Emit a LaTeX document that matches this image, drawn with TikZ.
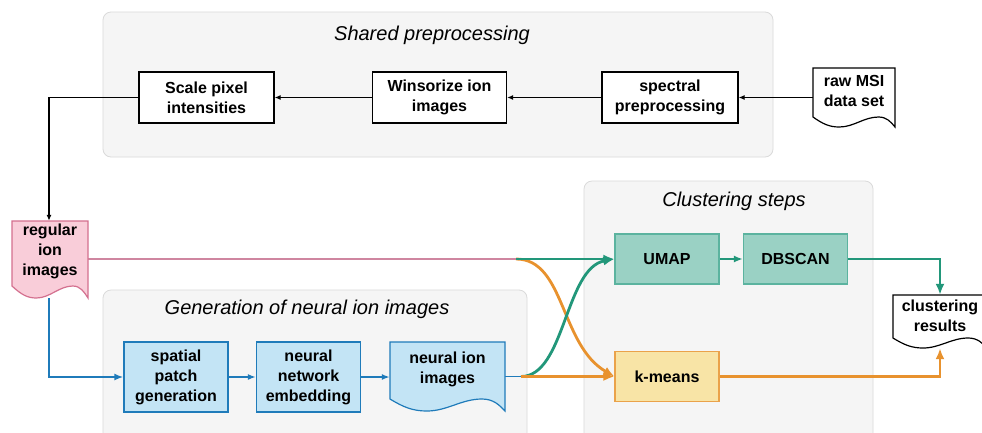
\documentclass[tikz,border=0pt]{standalone}
\usepackage{fontspec}
\setmainfont{Liberation Sans}
\usetikzlibrary{arrows.meta}
\definecolor{groupfill}{HTML}{F5F5F5}
\definecolor{groupline}{HTML}{DADADA}
\definecolor{pinkfill}{HTML}{F9CDD9}
\definecolor{pinkline}{HTML}{D4708F}
\definecolor{pinkconn}{HTML}{CF86A0}
\definecolor{bluefill}{HTML}{C3E4F5}
\definecolor{blueline}{HTML}{1F7BBA}
\definecolor{greenfill}{HTML}{9AD1C4}
\definecolor{greenborder}{HTML}{5BB39F}
\definecolor{greenline}{HTML}{22977A}
\definecolor{orangefill}{HTML}{F8E4A6}
\definecolor{orangeborder}{HTML}{EAA24A}
\definecolor{orangeline}{HTML}{E8922E}
\pgfdeclarelayer{back}
\pgfdeclarelayer{mid}
\pgfsetlayers{back,mid,main}
\newcommand{\wavedoc}[6]{% #1 style, #2 x1, #3 y1, #4 x2, #5 yb, #6 d
  \pgfmathsetmacro\wdw{#4-#2}
  \draw[#1] (#2,#3) -- (#4,#3) -- (#4,#5)
    .. controls ({#4-0.05*\wdw},{#5-0.5*#6}) and ({#2+0.9*\wdw},{#5-#6}) .. ({#2+0.8*\wdw},{#5-#6})
    .. controls ({#2+0.62*\wdw},{#5-#6}) and ({#2+0.5*\wdw},#5) .. ({#2+0.32*\wdw},#5)
    .. controls ({#2+0.2*\wdw},#5) and ({#2+0.12*\wdw},{#5-0.3*#6}) .. (#2,{#5-#6}) -- cycle;}
\begin{document}
\begin{tikzpicture}[x=1pt,y=-1pt,
  lbl/.style={font=\bfseries\fontsize{16}{20}\selectfont, align=center, inner sep=0},
  ttl/.style={font=\itshape\fontsize{20}{24}\selectfont, inner sep=0},
  group/.style={draw=groupline, fill=groupfill, rounded corners=8pt, line width=0.8pt, inner sep=0},
  wbox/.style={lbl, draw=black, fill=white, line width=1.2pt, minimum height=51},
  bbox/.style={lbl, draw=blueline, fill=bluefill, line width=1.2pt, minimum width=104, minimum height=70},
  gbox/.style={lbl, draw=greenborder, fill=greenfill, line width=1.2pt, minimum width=104, minimum height=50},
  obox/.style={lbl, draw=orangeborder, fill=orangefill, line width=1.2pt, minimum width=104, minimum height=50},
  shapebox/.style={inner sep=0, draw=none},
  blk/.style={draw=black, line width=1.4pt, -{Latex[length=6pt,width=5pt]}},
  bconn/.style={draw=blueline, line width=2.6pt, -{Latex[length=9pt,width=7pt]}},
  gconn/.style={draw=greenline, line width=2.8pt, -{Latex[length=11pt,width=9pt]}},
  oconn/.style={draw=orangeline, line width=2.8pt, -{Latex[length=11pt,width=9pt]}}]
\clip (0,0) rectangle (982,432);

% groups
\begin{pgfonlayer}{back}
\fill[white] (0,0) rectangle (982,432);
\node[group, minimum width=670, minimum height=145] (gshared) at (438,84.5) {};
\node[group, minimum width=424, minimum height=160] (ggen) at (315,370) {};
\node[group, minimum width=289, minimum height=270] (gclu) at (728.5,316) {};
\end{pgfonlayer}
\node[ttl] (tshared) at (432,35) {Shared preprocessing};
\node[ttl] (tgen) at (307,309) {Generation of neural ion images};
\node[ttl] (tclu) at (734,201) {Clustering steps};

% top row
\node[wbox, minimum width=135] (scale) at (206.5,97.5) {Scale pixel\\intensities};
\node[wbox, minimum width=134] (wins) at (439.5,97.5) {Winsorize ion\\images};
\node[wbox, minimum width=136] (spec) at (670,97.5) {spectral\\preprocessing};

% document shapes
\wavedoc{draw=black, fill=white, line width=1.2pt}{813}{68}{895}{127}{10}
\node[shapebox, minimum width=82, minimum height=59] (raw) at (854,97.5) {};
\node[lbl] (rawT) at (854,91) {raw MSI\\data set};

\wavedoc{draw=pinkline, fill=pinkfill, line width=1.2pt}{12}{221}{88}{298}{12}
\node[shapebox, minimum width=76, minimum height=77] (reg) at (50,259.5) {};
\node[lbl, align=center] (regT) at (50,251.5) {regular\\ion\\images};

\wavedoc{draw=blueline, fill=bluefill, line width=1.2pt}{390}{342}{505}{411}{12}
\node[shapebox, minimum width=115, minimum height=69] (nii) at (447.5,376.5) {};
\node[lbl] (niiT) at (447.5,369) {neural ion\\images};

\wavedoc{draw=black, fill=white, line width=1.2pt}{893}{295}{987}{348}{10}
\node[shapebox, minimum width=94, minimum height=53] (cres) at (940,321.5) {};
\node[lbl] (cresT) at (940,316) {clustering\\results};

% blue row
\node[bbox] (patch) at (176,377) {spatial\\patch\\generation};
\node[bbox] (embed) at (308.5,377) {neural\\network\\embedding};

% clustering
\node[gbox] (umap) at (667,259) {UMAP};
\node[gbox] (dbscan) at (795.5,259) {DBSCAN};
\node[obox] (kmeans) at (667,376.5) {k-means};

\coordinate (split1) at (516,259);
\coordinate (split2) at (521,376.5);
\coordinate (bend1) at (49,97.5);

% connectors
\begin{pgfonlayer}{mid}
\draw[blk] (raw.west) -- (spec.east);
\draw[blk] (spec.west) -- (wins.east);
\draw[blk] (wins.west) -- (scale.east);
\draw[blk] (scale.west) -- (bend1) -- (reg.north -| bend1);
\draw[bconn] (reg.south -| bend1) |- (patch.west);
\draw[bconn, line width=2.4pt, -{Latex[length=8pt,width=6pt]}] (patch.east) -- (embed.west);
\draw[bconn, line width=2.4pt, -{Latex[length=8pt,width=6pt]}] (embed.east) -- (embed.east -| nii.west);
\draw[pinkconn, line width=2pt] (reg.east |- split1) -- (split1);
\draw[blueline, line width=1.5pt] (nii.east |- split2) -- (split2);
\draw[oconn] (split1) .. controls (565,259) and (560,345) .. (kmeans.west);
\draw[gconn] (split2) .. controls (565,376.5) and (565,268) .. (umap.west);
\draw[gconn] (split1) -- (umap.west);
\draw[oconn] (split2) -- (kmeans.west);
\draw[gconn, -{Latex[length=9pt,width=7pt]}] (umap.east) -- (dbscan.west);
\draw[gconn] (dbscan.east) -| (cres.north);
\draw[oconn] (kmeans.east) -| (cres.south);
\end{pgfonlayer}
\end{tikzpicture}
\end{document}
